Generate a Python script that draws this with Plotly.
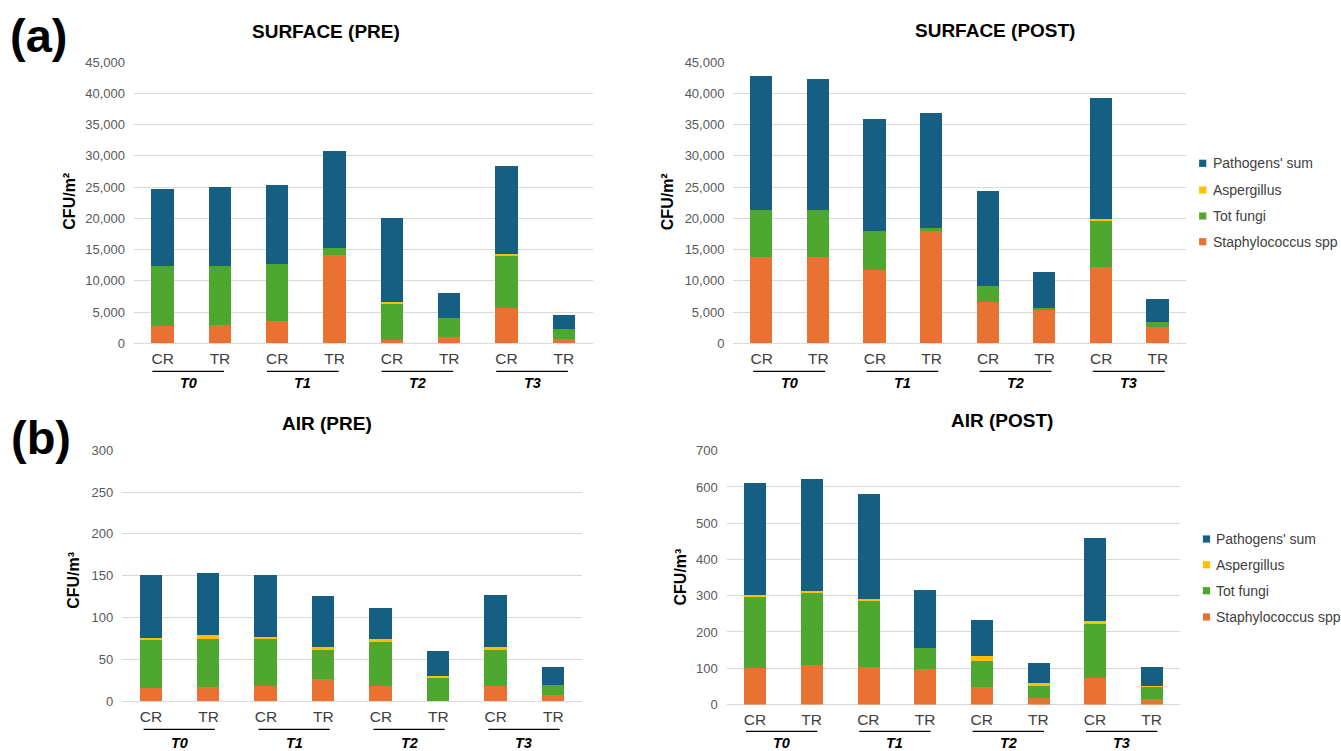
import plotly.graph_objects as go

W, H = 1341, 751

# ---- data -------------------------------------------------------------
categories = ["CR", "TR", "CR", "TR", "CR", "TR", "CR", "TR"]
timepoints = ["T0", "T1", "T2", "T3"]

series_names = ["Staphylococcus spp", "Tot fungi", "Aspergillus", "Pathogens' sum"]
series_colors = ["#E97132", "#4EA72E", "#FFC000", "#156082"]

# Surface, pre (CFU/m2)
surface_pre_staph = [2830, 3000, 3630, 14060, 530, 1070, 5610, 690]
surface_pre_fungi = [9520, 9350, 9040, 1230, 5720, 2930, 8450, 1550]
surface_pre_asperg = [0, 0, 0, 0, 380, 0, 210, 0]
surface_pre_path = [12350, 12650, 12720, 15500, 13360, 4020, 14110, 2300]

# Surface, post (CFU/m2)
surface_post_staph = [13740, 13740, 11700, 17900, 6630, 5290, 12190, 2620]
surface_post_fungi = [7640, 7640, 6200, 540, 2460, 430, 7480, 850]
surface_post_asperg = [0, 0, 0, 0, 0, 0, 160, 0]
surface_post_path = [21380, 20840, 17910, 18390, 15230, 5720, 19450, 3640]

# Air, pre (CFU/m3)
air_pre_staph = [14.8, 16.4, 17.6, 26.3, 17.6, 0.0, 17.6, 7.2]
air_pre_fungi = [57.4, 57.8, 55.8, 33.9, 53.0, 27.9, 42.6, 11.1]
air_pre_asperg = [2.4, 4.4, 2.4, 4.0, 2.8, 1.6, 4.0, 0.0]
air_pre_path = [75.4, 73.8, 74.2, 61.0, 37.5, 29.5, 62.2, 22.4]

# Air, post (CFU/m3)
air_post_staph = [101.0, 109.0, 103.0, 97.5, 50.0, 17.5, 73.5, 16.5]
air_post_fungi = [196.0, 200.5, 182.0, 59.0, 71.5, 37.0, 150.0, 33.0]
air_post_asperg = [6.5, 3.5, 6.5, 0.0, 12.0, 4.5, 8.5, 3.5]
air_post_path = [308.0, 311.0, 290.0, 159.0, 101.0, 56.0, 228.0, 52.5]

FONT = "Liberation Sans, Arial, sans-serif"


def fx(px):
    return px / W


def fy(py):
    return 1 - py / H


panels = [
    dict(title="SURFACE (PRE)", unit="CFU/m²",
         series=[surface_pre_staph, surface_pre_fungi, surface_pre_asperg, surface_pre_path],
         x0=134, x1=592.5, top=62, bottom=343.3, ymax=45000, dtick=5000,
         title_xy=(326, 31.7), unit_xy=(70, 201.7),
         line_y=371.3, group_y=383.3, line_span=(-0.18, 1.07)),
    dict(title="SURFACE (POST)", unit="CFU/m²",
         series=[surface_post_staph, surface_post_fungi, surface_post_asperg, surface_post_path],
         x0=733.4, x1=1186.2, top=62, bottom=343.3, ymax=45000, dtick=5000,
         title_xy=(995, 30.7), unit_xy=(667.5, 201.7),
         line_y=371.3, group_y=383.3, line_span=(-0.15, 1.12)),
    dict(title="AIR (PRE)", unit="CFU/m³",
         series=[air_pre_staph, air_pre_fungi, air_pre_asperg, air_pre_path],
         x0=122.3, x1=582, top=450.3, bottom=701, ymax=300, dtick=50,
         title_xy=(327, 423.3), unit_xy=(74, 580.8),
         line_y=729.3, group_y=743.3, line_span=(-0.13, 1.11)),
    dict(title="AIR (POST)", unit="CFU/m³",
         series=[air_post_staph, air_post_fungi, air_post_asperg, air_post_path],
         x0=726.7, x1=1180, top=450.7, bottom=704.5, ymax=700, dtick=100,
         title_xy=(1002, 420), unit_xy=(680, 577.5),
         line_y=731.3, group_y=743.3, line_span=(-0.16, 1.10)),
]

fig = go.Figure()
annotations = []
shapes = []
xpos = list(range(len(categories)))

for i, p in enumerate(panels, start=1):
    sfx = "" if i == 1 else str(i)
    for name, color, vals in zip(series_names, series_colors, p["series"]):
        fig.add_trace(go.Bar(
            x=xpos, y=vals, name=name, width=0.39,
            marker=dict(color=color, line=dict(width=0)),
            xaxis="x" + sfx, yaxis="y" + sfx, showlegend=False,
        ))

    fig.update_layout(**{
        "xaxis" + sfx: dict(
            domain=[fx(p["x0"]), fx(p["x1"])], anchor="y" + sfx,
            range=[-0.5, 7.5], tickmode="array", tickvals=xpos, ticktext=categories,
            showgrid=False, zeroline=False, showline=False, ticks="",
            tickfont=dict(family=FONT, size=15.5, color="#404040"),
            ticklabelstandoff=4, automargin=False, fixedrange=True,
        ),
        "yaxis" + sfx: dict(
            domain=[fy(p["bottom"]), fy(p["top"])], anchor="x" + sfx,
            range=[0, p["ymax"]], dtick=p["dtick"], tickformat=",d",
            showgrid=True, gridcolor="#d9d9d9", gridwidth=1,
            zeroline=True, zerolinecolor="#d9d9d9", zerolinewidth=1,
            showline=False, ticks="",
            tickfont=dict(family=FONT, size=13, color="#595959"),
            ticklabelstandoff=8, automargin=False, fixedrange=True,
        ),
    })

    # panel title
    annotations.append(dict(
        text=p["title"], xref="paper", yref="paper",
        x=fx(p["title_xy"][0]), y=fy(p["title_xy"][1]),
        xanchor="center", yanchor="middle", showarrow=False,
        font=dict(family=FONT, size=19, color="#000000", weight="bold"),
    ))
    # y-axis unit label
    annotations.append(dict(
        text=p["unit"], xref="paper", yref="paper",
        x=fx(p["unit_xy"][0]), y=fy(p["unit_xy"][1]),
        xanchor="center", yanchor="middle", textangle=-90, showarrow=False,
        font=dict(family=FONT, size=16, color="#000000", weight="bold"),
    ))
    # time-point brackets under each CR/TR pair
    lo, hi = p["line_span"]
    for g, tp in enumerate(timepoints):
        a, b = 2 * g + lo, 2 * g + hi
        shapes.append(dict(
            type="line", xref="x" + sfx, yref="paper",
            x0=a, x1=b, y0=fy(p["line_y"]), y1=fy(p["line_y"]),
            line=dict(color="#000000", width=1.3),
        ))
        annotations.append(dict(
            text=tp, xref="x" + sfx, yref="paper",
            x=(a + b) / 2, y=fy(p["group_y"]),
            xanchor="center", yanchor="middle", showarrow=False,
            font=dict(family=FONT, size=14.5, color="#000000",
                      weight="bold", style="italic"),
        ))

# legends (top-down order is the reverse of the stacking order)
legend_specs = [
    dict(sq_x=1202.7, text_x=1210.7, ys=[163.3, 190.0, 216.0, 241.7]),
    dict(sq_x=1206.5, text_x=1214.0, ys=[539.0, 564.7, 590.7, 617.0]),
]
for spec in legend_specs:
    for name, color, yc in zip(series_names[::-1], series_colors[::-1], spec["ys"]):
        shapes.append(dict(
            type="rect", xref="paper", yref="paper",
            x0=fx(spec["sq_x"] - 3.6), x1=fx(spec["sq_x"] + 3.6),
            y0=fy(yc + 3.6), y1=fy(yc - 3.6),
            fillcolor=color, line=dict(width=0),
        ))
        annotations.append(dict(
            text=name, xref="paper", yref="paper",
            x=fx(spec["text_x"]), y=fy(yc), xanchor="left", yanchor="middle",
            showarrow=False, font=dict(family=FONT, size=14, color="#404040"),
        ))

# figure panel letters
for letter, (cx, cy) in [("(a)", (38, 36)), ("(b)", (41, 437.5))]:
    annotations.append(dict(
        text=letter, xref="paper", yref="paper",
        x=fx(cx), y=fy(cy), xanchor="center", yanchor="middle", showarrow=False,
        font=dict(family=FONT, size=47, color="#000000", weight="bold"),
    ))

fig.update_layout(
    template="none",
    width=W, height=H, autosize=False,
    margin=dict(l=0, r=0, t=0, b=0, pad=0, autoexpand=False),
    paper_bgcolor="#ffffff", plot_bgcolor="#ffffff",
    barmode="stack", bargap=0, showlegend=False,
    annotations=annotations, shapes=shapes,
    font=dict(family=FONT),
)

fig.write_html("out.html", config={"displayModeBar": False})
